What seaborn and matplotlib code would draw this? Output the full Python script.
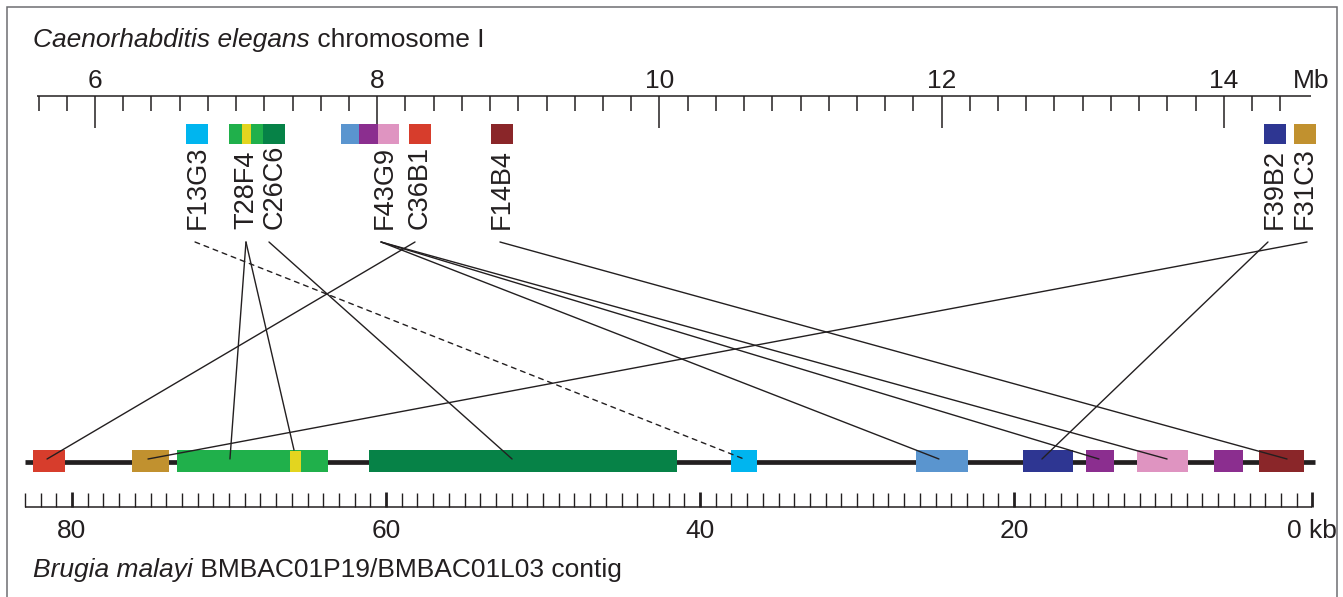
import numpy as np
import matplotlib
matplotlib.use('Agg')
import matplotlib.pyplot as plt
from matplotlib.patches import ConnectionPatch, Rectangle
import seaborn as sns

# C. elegans chromosome I clones (positions in Mb)
clone_names = ['F13G3', 'T28F4', 'C26C6', 'F43G9', 'C36B1', 'F14B4', 'F39B2', 'F31C3']
clone_label_mb = [6.73, 7.07, 7.27, 8.05, 8.30, 8.885, 14.36, 14.575]
clone_line_mb = [6.709, 7.07, 7.233, 8.027, 8.268, 8.870, 14.313, 14.590]

# coloured gene boxes on the chromosome (Mb)
ce_start = [6.645, 6.950, 7.042, 7.106, 7.191, 7.743, 7.871, 8.006, 8.225, 8.807, 14.285, 14.498]
ce_end = [6.801, 7.042, 7.106, 7.191, 7.347, 7.871, 8.006, 8.154, 8.381, 8.962, 14.441, 14.654]
ce_color = ['cyan', 'green', 'yellow', 'green', 'dkgreen', 'ltblue', 'purple', 'pink',
            'red', 'dkred', 'navy', 'gold']

# B. malayi contig blocks (kb)
bm_start = [82.48, 76.18, 73.31, 66.11, 61.08, 38.03, 26.24, 19.43, 15.41, 12.17, 7.26, 4.39]
bm_end = [80.45, 73.82, 63.69, 65.41, 41.46, 36.37, 22.93, 16.24, 13.63, 8.92, 5.41, 1.53]
bm_color = ['red', 'gold', 'green', 'yellow', 'dkgreen', 'cyan', 'ltblue', 'navy',
            'purple', 'pink', 'purple', 'dkred']
contig_kb = (83.0, 0.8)

# links clone -> contig block (kb)
link_clone = ['F13G3', 'T28F4', 'T28F4', 'C26C6', 'F43G9', 'F43G9', 'F43G9',
              'C36B1', 'F14B4', 'F39B2', 'F31C3']
link_kb = [37.2, 69.94, 65.86, 51.97, 24.78, 14.59, 10.25, 81.59, 2.61, 18.22, 75.16]

mb_ticks = [6, 8, 10, 12, 14]
kb_ticks = [80, 60, 40, 20]

palette = {
    'cyan': '#00B5EF', 'green': '#20B04B', 'yellow': '#E3D51F', 'dkgreen': '#068247',
    'ltblue': '#5A95CF', 'purple': '#8B2E8F', 'pink': '#DF94C1', 'red': '#D73D2C',
    'dkred': '#8A2629', 'navy': '#2E3692', 'gold': '#C1912F',
}

sns.set_theme(style='white')
plt.rcParams['font.family'] = ['Liberation Sans', 'DejaVu Sans']
FS = 19
INK = '#231F20'

W, H = 1343, 597
fig = plt.figure(figsize=(W / 100, H / 100), dpi=100)

# two overlapping axes: top in Mb, bottom in kb, y in pixel rows
ax_top = fig.add_axes([0, 0, 1, 1])
ax_bot = fig.add_axes([0, 0, 1, 1])
px_per_mb = 141.1
ax_top.set_xlim(6 - 95 / px_per_mb, 6 + (W - 95) / px_per_mb)
px_per_kb = 15.7
ax_bot.set_xlim(1328 / px_per_kb, (1328 - W) / px_per_kb)
for ax in (ax_top, ax_bot):
    ax.set_ylim(H, 0)
    ax.set_axis_off()
    ax.patch.set_visible(False)

# frame
fig.patches.append(Rectangle((7 / W, -0.05), (1337 - 7) / W, 1.05 - 7 / H,
                             transform=fig.transFigure, fill=False,
                             edgecolor='#6d6e71', lw=1.1))

# --- top scale ---
ax_top.hlines(96, 5.59, 14.62, color=INK, lw=1.1)
minor = np.round(np.arange(5.6, 14.41, 0.2), 1)
minor = [m for m in minor if m not in mb_ticks]
ax_top.vlines(minor, 96, 111, color=INK, lw=1.1)
ax_top.vlines(mb_ticks, 96, 128, color=INK, lw=1.1)
for t in mb_ticks:
    ax_top.text(t, 88, str(t), ha='center', va='baseline', fontsize=FS, color=INK)
ax_top.text(14.62, 88, 'Mb', ha='center', va='baseline', fontsize=FS, color=INK)

for s, e, c in zip(ce_start, ce_end, ce_color):
    ax_top.bar(x=s, height=20, width=e - s, bottom=124, align='edge',
               color=palette[c], lw=0, zorder=3)

for name, x in zip(clone_names, clone_label_mb):
    ax_top.text(x, 229, name, rotation=90, ha='center', va='bottom',
                fontsize=19.5, color=INK)

# --- bottom contig ---
ax_bot.hlines(462, contig_kb[0], contig_kb[1], color=INK, lw=3.4, zorder=2)
for s, e, c in zip(bm_start, bm_end, bm_color):
    top, h = (451, 21) if c == 'yellow' else (450, 22)
    ax_bot.bar(x=e, height=h, width=s - e, bottom=top, align='edge',
               color=palette[c], lw=0, zorder=3)

ax_bot.hlines(507, 83, 1, color=INK, lw=1.1)
kb_minor = [k for k in range(2, 84) if k not in kb_ticks]
ax_bot.vlines(kb_minor, 493, 507, color=INK, lw=1.0)
ax_bot.vlines(kb_ticks + [1], 492, 507, color=INK, lw=2.0)
for t in kb_ticks:
    ax_bot.text(t, 538, str(t), ha='center', va='baseline', fontsize=FS, color=INK)
ax_bot.text(1, 538, '0 kb', ha='center', va='baseline', fontsize=FS, color=INK)

# --- links ---
pos = dict(zip(clone_names, clone_line_mb))
for name, kb in zip(link_clone, link_kb):
    y_end = 450 if kb == 65.86 else 459
    con = ConnectionPatch(xyA=(pos[name], 242), coordsA=ax_top.transData,
                          xyB=(kb, y_end), coordsB=ax_bot.transData,
                          color=INK, lw=1.0,
                          linestyle=(0, (3.5, 3.5)) if name == 'F13G3' else '-')
    fig.add_artist(con)

# --- titles ---
t1 = fig.text(33 / W, 1 - 47 / H, 'Caenorhabditis elegans', style='italic',
              fontsize=FS, color=INK, va='baseline')
fig.add_artist(plt.Annotation(' chromosome I', xy=(1, 0), xycoords=t1,
                              va='bottom', ha='left', fontsize=FS, color=INK))
t2 = fig.text(33 / W, 1 - 577 / H, 'Brugia malayi', style='italic',
              fontsize=FS, color=INK, va='baseline')
fig.add_artist(plt.Annotation(' BMBAC01P19/BMBAC01L03 contig', xy=(1, 0), xycoords=t2,
                              va='bottom', ha='left', fontsize=FS, color=INK))

fig.savefig('out.png', dpi=100)
